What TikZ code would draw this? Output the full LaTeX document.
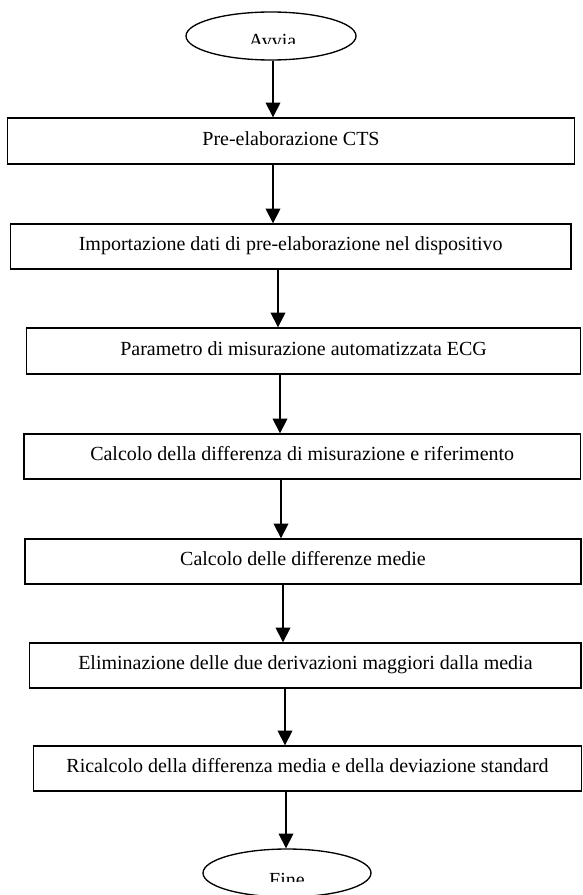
\documentclass[tikz,border=0pt]{standalone}
\usepackage{fontspec}
\setmainfont{Liberation Serif}
\usetikzlibrary{shapes.geometric,arrows.meta}
\begin{document}
\begin{tikzpicture}[x=0.75pt,y=-0.75pt,
  box/.style={draw, line width=1pt, inner sep=0pt, font=\fontsize{15}{18}\selectfont, text height=0.662em, text depth=0pt},
  term/.style={draw, ellipse, line width=1pt, inner sep=0pt, minimum width=127.5pt, minimum height=36pt},
  lbl/.style={font=\fontsize{15}{18}\selectfont, inner sep=0pt, anchor=base},
  arr/.style={line width=1pt, -{Triangle[length=11pt,width=11pt]}}]
\useasboundingbox (0,0) rectangle (582,895);
% terminals
\node[term] (s) at (271,36) {};
\begin{scope}
  \clip (0,0) rectangle (582,43.5);
  \node[lbl] (st) at (272.5,48) {Avvia};
\end{scope}
\node[term, minimum width=126pt] (e) at (287,873) {};
\begin{scope}
  \clip (0,0) rectangle (582,881);
  \node[lbl] (et) at (287,886) {Fine};
\end{scope}
% boxes
\node[box, minimum width=425.25pt, minimum height=34.5pt] (b1) at (291,141) {Pre-elaborazione CTS};
\node[box, minimum width=420.45pt, minimum height=33.75pt] (b2) at (290.7,246.5) {Importazione dati di pre-elaborazione nel dispositivo};
\node[box, minimum width=415.35pt, minimum height=34.5pt] (b3) at (303.6,351) {Parametro di misurazione automatizzata ECG};
\node[box, minimum width=417.5pt, minimum height=33.75pt] (b4) at (302.2,456.5) {Calcolo della differenza di misurazione e riferimento};
\node[box, minimum width=417pt, minimum height=33.75pt] (b5) at (303,561.5) {Calcolo delle differenze medie};
\node[box, minimum width=413.5pt, minimum height=33.75pt] (b6) at (305.4,665.5) {Eliminazione delle due derivazioni maggiori dalla media};
\node[box, minimum width=411pt, minimum height=33.75pt] (b7) at (307.5,768.5) {Ricalcolo della differenza media e della deviazione standard};
% arrow columns
\coordinate (a0) at (273,0);
\coordinate (a1) at (273,0);
\coordinate (a2) at (278,0);
\coordinate (a3) at (280,0);
\coordinate (a4) at (281,0);
\coordinate (a5) at (283,0);
\coordinate (a6) at (285,0);
\coordinate (a7) at (286,0);
\draw[arr] (s.south -| a0) -- (b1.north -| a0);
\draw[arr] (b1.south -| a1) -- (b2.north -| a1);
\draw[arr] (b2.south -| a2) -- (b3.north -| a2);
\draw[arr] (b3.south -| a3) -- (b4.north -| a3);
\draw[arr] (b4.south -| a4) -- (b5.north -| a4);
\draw[arr] (b5.south -| a5) -- (b6.north -| a5);
\draw[arr] (b6.south -| a6) -- (b7.north -| a6);
\draw[arr] (b7.south -| a7) -- (e.north -| a7);
\end{tikzpicture}
\end{document}
